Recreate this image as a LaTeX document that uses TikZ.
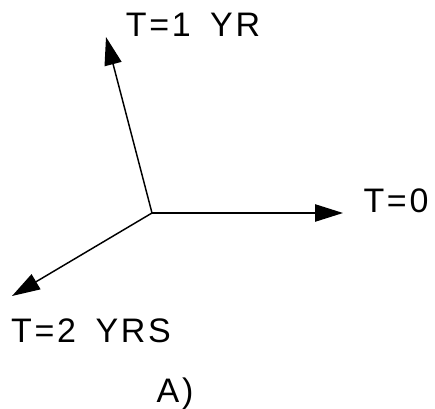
\documentclass[tikz,border=0pt]{standalone}
\usepackage{fontspec}
\newfontfamily\labelfont[LetterSpace=8, WordSpace=1.6]{Liberation Sans}
\usetikzlibrary{arrows.meta}

\begin{document}
\begin{tikzpicture}[
	x=0.75pt, y=-0.75pt,
	% Define the style for the labels and the arrows
	every node/.style={font=\labelfont\fontsize{25.5}{25.5}\selectfont, inner sep=0pt, anchor=base},
	vec/.style={line width=1.1pt, -{Triangle[length=21pt, width=13pt]}}
	]
	\useasboundingbox (0,0) rectangle (435,409);
	
	% --- POINTS ---
	% Format: \coordinate (name) at (x,y);
	
	\coordinate (o)  at (152, 213);
	\coordinate (t0) at (343, 213);
	\coordinate (t1) at (106, 37);
	\coordinate (t2) at (12, 296);
	
	% --- LABELS ---
	
	\node (l0) at (396, 213) {T=0};
	\node (l1) at (193, 37)  {T=1 YR};
	\node (l2) at (91, 342)  {T=2 YRS};
	\node (cap) at (175, 402) {A)};
	
	% --- ARROWS ---
	
	\draw[vec] (o) -- (t0); % Right arrow
	\draw[vec] (o) -- (t1); % Up arrow
	\draw[vec] (o) -- (t2); % Down-left arrow
	
\end{tikzpicture}
\end{document}
